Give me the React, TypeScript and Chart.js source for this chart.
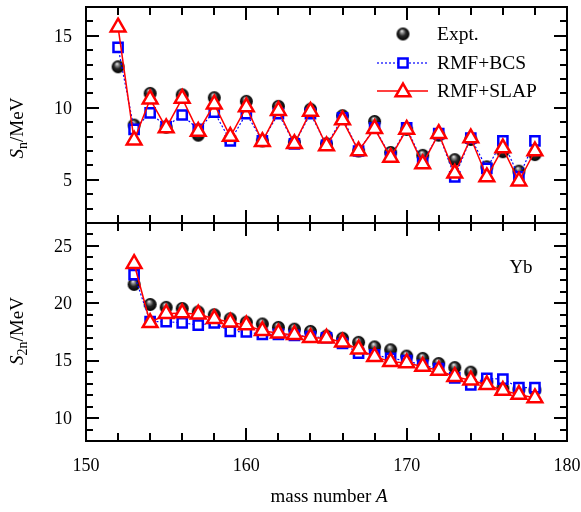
import React, { useEffect, useRef } from 'react';
import { Chart, registerables } from 'chart.js';
Chart.register(...registerables);

// ---------- data ----------
const massTop = [152, 153, 154, 155, 156, 157, 158, 159, 160, 161, 162, 163, 164, 165, 166, 167, 168, 169, 170, 171, 172, 173, 174, 175, 176, 177, 178];
const snExpt = [12.85, 8.8, 11.0, 8.65, 10.9, 8.1, 10.7, 7.8, 10.45, 7.7, 10.1, 7.6, 9.9, 7.5, 9.45, 7.0, 9.05, 6.9, 8.5, 6.7, 8.1, 6.4, 7.8, 5.9, 6.95, 5.6, 6.75];
const snBCS = [14.2, 8.5, 9.65, 8.7, 9.5, 8.5, 9.7, 7.7, 9.6, 7.7, 9.6, 7.5, 9.6, 7.4, 9.3, 7.0, 8.6, 6.6, 8.6, 6.2, 8.2, 5.2, 7.9, 5.8, 7.7, 5.2, 7.7];
const snSLAP = [15.6, 7.75, 10.6, 8.6, 10.65, 8.35, 10.25, 8.0, 10.05, 7.65, 9.8, 7.5, 9.75, 7.35, 9.15, 7.0, 8.55, 6.55, 8.5, 6.1, 8.2, 5.45, 7.9, 5.2, 7.2, 4.9, 7.0];

const massBottom = [153, 154, 155, 156, 157, 158, 159, 160, 161, 162, 163, 164, 165, 166, 167, 168, 169, 170, 171, 172, 173, 174, 175, 176, 177, 178];
const s2nExpt = [21.65, 19.9, 19.65, 19.55, 19.25, 19.0, 18.65, 18.35, 18.2, 17.9, 17.75, 17.55, 17.15, 16.95, 16.6, 16.2, 15.95, 15.4, 15.2, 14.75, 14.4, 14.0, 13.15, 12.6, 12.5, 12.45];
const s2nBCS = [22.5, 18.4, 18.4, 18.3, 18.1, 18.3, 17.55, 17.5, 17.3, 17.3, 17.2, 17.1, 17.0, 16.5, 15.65, 15.5, 15.2, 15.0, 14.6, 14.3, 13.5, 12.9, 13.45, 13.4, 12.65, 12.65];
const s2nSLAP = [23.45, 18.3, 19.1, 19.15, 19.05, 18.65, 18.35, 18.1, 17.6, 17.4, 17.25, 17.0, 16.95, 16.6, 16.0, 15.35, 14.9, 14.8, 14.5, 14.15, 13.6, 13.3, 12.9, 12.4, 12.05, 11.75];

const xTickValues = [150, 160, 170, 180];
const yTickTop = [5, 10, 15];
const yTickBottom = [10, 15, 20, 25];
const seriesLabels = ['Expt.', 'RMF+BCS', 'RMF+SLAP'];

const FONT = '"Liberation Serif", "Times New Roman", serif';
const BLUE = '#0000ff';
const RED = '#ff0000';

function makeBall(r: number): HTMLCanvasElement {
  const c = document.createElement('canvas');
  const s = Math.ceil(2 * r + 2);
  c.width = s; c.height = s;
  const g = c.getContext('2d')!;
  const cx = s / 2, cy = s / 2;
  const grad = g.createRadialGradient(cx - 0.2 * r, cy - 0.5 * r, 0, cx, cy, r);
  grad.addColorStop(0, '#ffffff');
  grad.addColorStop(0.22, '#9a9a9a');
  grad.addColorStop(0.55, '#262626');
  grad.addColorStop(1, '#000000');
  g.fillStyle = grad;
  g.beginPath();
  g.arc(cx, cy, r, 0, Math.PI * 2);
  g.fill();
  return c;
}

type Seg = { t: string; italic?: boolean; sub?: boolean };

function drawSegs(ctx: CanvasRenderingContext2D, segs: Seg[], cx: number, cy: number, rotate: boolean, size: number) {
  ctx.save();
  ctx.translate(cx, cy);
  if (rotate) ctx.rotate(-Math.PI / 2);
  const fontOf = (s: Seg) => `${s.italic ? 'italic ' : ''}${s.sub ? Math.round(size * 0.72) : size}px ${FONT}`;
  let total = 0;
  const widths = segs.map((s) => { ctx.font = fontOf(s); const w = ctx.measureText(s.t).width; total += w; return w; });
  let x = -total / 2;
  ctx.fillStyle = '#000';
  ctx.textBaseline = 'middle';
  ctx.textAlign = 'left';
  segs.forEach((s, i) => {
    ctx.font = fontOf(s);
    ctx.fillText(s.t, x, s.sub ? size * 0.3 : 0);
    x += widths[i];
  });
  ctx.restore();
}

function drawRect(ctx: CanvasRenderingContext2D, x: number, y: number, r: number, color: string, lw: number) {
  const h = Math.SQRT1_2 * r;
  ctx.beginPath();
  ctx.rect(x - h, y - h, 2 * h, 2 * h);
  ctx.fillStyle = '#fff';
  ctx.fill();
  ctx.lineWidth = lw; ctx.strokeStyle = color; ctx.stroke();
}

function drawTri(ctx: CanvasRenderingContext2D, x: number, y: number, r: number, color: string, lw: number) {
  ctx.beginPath();
  for (let k = 0; k < 3; k++) {
    const a = (k * 2 * Math.PI) / 3;
    const px = x + Math.sin(a) * r, py = y - Math.cos(a) * r;
    if (k === 0) ctx.moveTo(px, py); else ctx.lineTo(px, py);
  }
  ctx.closePath();
  ctx.fillStyle = '#fff';
  ctx.fill();
  ctx.lineWidth = lw; ctx.strokeStyle = color; ctx.stroke();
}

type FrameOpts = {
  yTitle: Seg[]; yTitleX: number; yTitleY: number;
  yTicks: number[]; xTicks?: number[];
  legend?: boolean; label?: { t: string; x: number; y: number };
  xTitle?: { segs: Seg[]; x: number; y: number };
  ball: HTMLCanvasElement;
};

function framePlugin(o: FrameOpts) {
  return {
    id: 'frame',
    afterDraw(chart: any) {
      const { ctx, chartArea: a, scales } = chart;
      const xs = scales.x, ys = scales.y;
      ctx.save();
      ctx.strokeStyle = '#000';
      ctx.lineWidth = 2;
      ctx.lineCap = 'butt';
      const line = (x1: number, y1: number, x2: number, y2: number) => {
        ctx.beginPath(); ctx.moveTo(x1, y1); ctx.lineTo(x2, y2); ctx.stroke();
      };
      for (let v = xs.min; v <= xs.max + 1e-9; v += 2) {
        const px = Math.round(xs.getPixelForValue(v));
        const len = Math.round(v) % 10 === 0 ? 13 : 8;
        line(px, a.top, px, a.top + len);
        line(px, a.bottom, px, a.bottom - len);
      }
      for (let v = Math.ceil(ys.min); v <= ys.max + 1e-9; v += 1) {
        const py = Math.round(ys.getPixelForValue(v));
        const len = Math.round(v) % 5 === 0 ? 13 : 7;
        line(a.left, py, a.left + len, py);
        line(a.right, py, a.right - len, py);
      }
      ctx.strokeRect(a.left, a.top, a.right - a.left, a.bottom - a.top);

      ctx.font = `18px ${FONT}`;
      ctx.fillStyle = '#000';
      ctx.textAlign = 'right';
      ctx.textBaseline = 'middle';
      o.yTicks.forEach((v) => ctx.fillText(String(v), a.left - 14, ys.getPixelForValue(v) + 1));
      if (o.xTicks) {
        ctx.textAlign = 'center';
        o.xTicks.forEach((v) => ctx.fillText(String(v), xs.getPixelForValue(v), a.bottom + 25));
      }

      drawSegs(ctx, o.yTitle, o.yTitleX, o.yTitleY, true, 19);
      if (o.xTitle) drawSegs(ctx, o.xTitle.segs, o.xTitle.x, o.xTitle.y, false, 19);
      if (o.label) {
        ctx.font = `19px ${FONT}`;
        ctx.fillStyle = '#000';
        ctx.textAlign = 'center';
        ctx.textBaseline = 'middle';
        ctx.fillText(o.label.t, o.label.x, o.label.y);
      }
      if (o.legend) {
        const ys2 = [34, 63, 91];
        const mx = 403, tx = 437;
        ctx.drawImage(o.ball, mx - o.ball.width / 2, ys2[0] - o.ball.height / 2);
        ctx.save();
        ctx.strokeStyle = BLUE; ctx.lineWidth = 1.2; ctx.setLineDash([2, 2]);
        line(377, ys2[1], 428, ys2[1]);
        ctx.restore();
        drawRect(ctx, mx, ys2[1], 6.5, BLUE, 2.5);
        ctx.save();
        ctx.strokeStyle = RED; ctx.lineWidth = 1.5;
        line(377, ys2[2], 428, ys2[2]);
        ctx.restore();
        drawTri(ctx, mx, ys2[2] + 1, 8.5, RED, 2.5);
        ctx.font = `19.5px ${FONT}`;
        ctx.fillStyle = '#000';
        ctx.textAlign = 'left';
        ctx.textBaseline = 'middle';
        seriesLabels.forEach((t, i) => ctx.fillText(t, tx, ys2[i] + 1));
      }
      ctx.restore();
    },
  };
}

function buildDatasets(mass: number[], e: number[], b: number[], s: number[], ball: HTMLCanvasElement) {
  const pts = (arr: number[]) => mass.map((m, i) => ({ x: m, y: arr[i] }));
  return [
    {
      label: seriesLabels[0], data: pts(e), showLine: false, order: 3,
      pointStyle: ball, pointRadius: 7, borderColor: '#000', backgroundColor: '#000',
    },
    {
      label: seriesLabels[1], data: pts(b), showLine: true, order: 2,
      borderColor: BLUE, borderWidth: 1.2, borderDash: [2, 2],
      pointStyle: 'rect', pointRadius: 6.5, pointBorderWidth: 2.5,
      pointBorderColor: BLUE, pointBackgroundColor: '#fff',
    },
    {
      label: seriesLabels[2], data: pts(s), showLine: true, order: 1,
      borderColor: RED, borderWidth: 1.5,
      pointStyle: 'triangle', pointRadius: 8.5, pointBorderWidth: 2.5,
      pointBorderColor: RED, pointBackgroundColor: '#fff',
    },
  ];
}

export default function App() {
  const topRef = useRef<HTMLCanvasElement>(null);
  const botRef = useRef<HTMLCanvasElement>(null);

  useEffect(() => {
    const ball = makeBall(6.5);

    const top = new Chart(topRef.current!, {
      type: 'scatter',
      data: { datasets: buildDatasets(massTop, snExpt, snBCS, snSLAP, ball) as any },
      options: {
        animation: false, responsive: false, devicePixelRatio: 1, events: [],
        layout: { autoPadding: false, padding: { top: 7, right: 14, bottom: 9, left: 86 } },
        plugins: { legend: { display: false }, tooltip: { enabled: false } },
        scales: {
          x: { type: 'linear', min: 150, max: 180, display: false },
          y: { type: 'linear', min: 2, max: 17, display: false },
        },
      },
      plugins: [framePlugin({
        yTitle: [{ t: 'S', italic: true }, { t: 'n', sub: true }, { t: '/MeV' }],
        yTitleX: 18, yTitleY: 128, yTicks: yTickTop, legend: true, ball,
      })],
    } as any);

    const bot = new Chart(botRef.current!, {
      type: 'scatter',
      data: { datasets: buildDatasets(massBottom, s2nExpt, s2nBCS, s2nSLAP, ball) as any },
      options: {
        animation: false, responsive: false, devicePixelRatio: 1, events: [],
        layout: { autoPadding: false, padding: { top: 7, right: 14, bottom: 71, left: 86 } },
        plugins: { legend: { display: false }, tooltip: { enabled: false } },
        scales: {
          x: { type: 'linear', min: 150, max: 180, display: false },
          y: { type: 'linear', min: 8, max: 27, display: false },
        },
      },
      plugins: [framePlugin({
        yTitle: [{ t: 'S', italic: true }, { t: '2n', sub: true }, { t: '/MeV' }],
        yTitleX: 18, yTitleY: 115, yTicks: yTickBottom, xTicks: xTickValues,
        label: { t: 'Yb', x: 521, y: 52 },
        xTitle: { segs: [{ t: 'mass number ' }, { t: 'A', italic: true }], x: 329, y: 281 },
        ball,
      })],
    } as any);

    return () => { top.destroy(); bot.destroy(); };
  }, []);

  return (
    <div style={{ position: 'fixed', left: 0, top: 0, width: 581, height: 512, background: '#fff' }}>
      <canvas ref={topRef} width={581} height={232} style={{ position: 'absolute', left: 0, top: 0, width: 581, height: 232 }} />
      <canvas ref={botRef} width={581} height={296} style={{ position: 'absolute', left: 0, top: 216, width: 581, height: 296 }} />
    </div>
  );
}
